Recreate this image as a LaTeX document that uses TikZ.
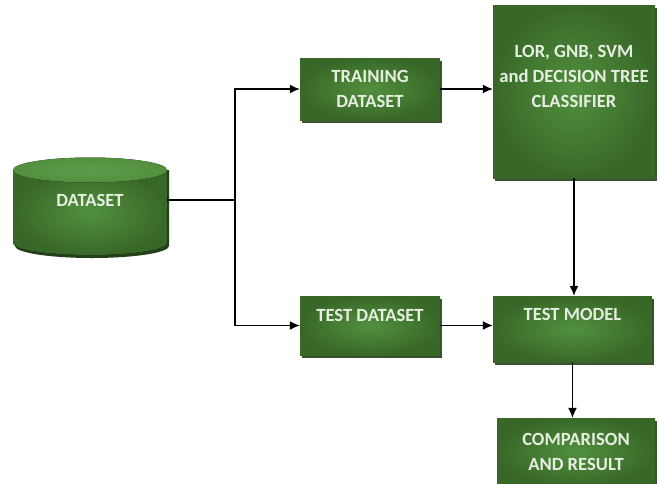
\documentclass[tikz,border=0pt]{standalone}
\usepackage{fontspec}
\setmainfont{Carlito}
\usetikzlibrary{shadows,arrows.meta}
\definecolor{gdark}{HTML}{386828}
\definecolor{glight}{HTML}{52903E}
\definecolor{gtop}{HTML}{5E9A4A}
\definecolor{gtext}{HTML}{E6EEE1}
\definecolor{gshadow}{HTML}{24401A}
\tikzset{
  box/.style={draw=none, inner color=glight, outer color=gdark,
    drop shadow={shadow xshift=2pt, shadow yshift=-3pt, fill=gshadow, opacity=0.9},
    text=gtext, font=\bfseries\fontsize{18.6}{25}\selectfont, align=center, inner sep=0pt},
  lbl/.style={text=gtext, font=\bfseries\fontsize{18.6}{25}\selectfont, align=center, inner sep=0pt},
  conn/.style={draw=black, line width=1.3pt, -{Latex[length=10pt,width=9pt]}},
  plain/.style={draw=black, line width=1.3pt},
}
\begin{document}
\begin{tikzpicture}[x=1pt,y=-1pt]
\useasboundingbox (0,0) rectangle (660,483);
\fill[white] (0,0) rectangle (660,483);
% cylinder
\fill[gshadow] (15,170) -- (15,246) arc[start angle=180, end angle=0, x radius=77, y radius=12] -- (169,170) -- cycle;
\fill[inner color=glight, outer color=gdark] (13,170) -- (13,243) arc[start angle=180, end angle=0, x radius=77, y radius=12] -- (167,170) -- cycle;
\fill[inner color=gtop, outer color=glight] (90,170) ellipse[x radius=77, y radius=12.5];
\node[lbl, minimum width=154pt, minimum height=60pt] (db) at (90,200) {DATASET};
% boxes
\node[box, minimum width=140pt, minimum height=62pt] (train) at (370,89) {TRAINING\\DATASET};
\node[box, minimum width=162pt, minimum height=173pt, text depth=30pt] (clf) at (574,91.5) {LOR, GNB, SVM\\and DECISION TREE\\CLASSIFIER};
\node[box, minimum width=140pt, minimum height=59pt, text depth=20pt] (test) at (370,325.5) {TEST DATASET};
\node[box, minimum width=159pt, minimum height=66pt, text depth=30pt] (tm) at (572.5,329) {TEST MODEL};
\node[box, minimum width=158pt, minimum height=68pt] (cmp) at (576,452) {COMPARISON\\AND RESULT};
% connectors
\coordinate (j) at (235,200);
\draw[plain] (db.east) -- (j);
\draw[conn] (j) |- (train.west);
\draw[conn] (j) |- (test.west);
\draw[conn] (train.east) -- (train.east -| clf.west);
\draw[conn] (test.east) -- (test.east -| tm.west);
\draw[conn] (clf.south) -- (clf.south |- tm.north);
\draw[conn] (tm.south) -- (tm.south |- cmp.north);
\end{tikzpicture}
\end{document}
